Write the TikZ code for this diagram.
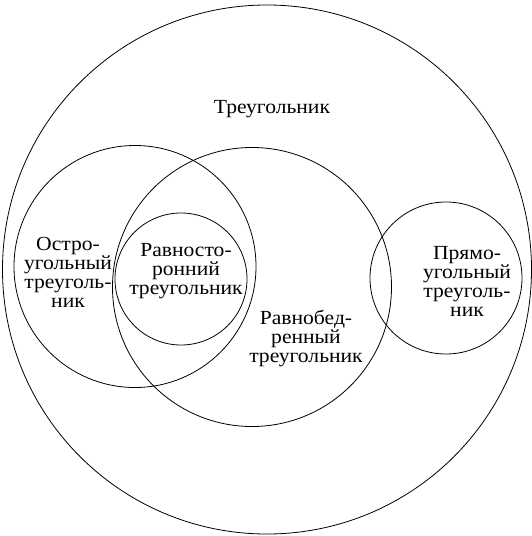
\documentclass[tikz,border=0pt]{standalone}
\usepackage{fontspec}
\setmainfont{Liberation Serif}[FakeStretch=1.08]
\begin{document}
\begin{tikzpicture}[x=1pt,y=-1pt,
  setring/.style={circle, draw, line width=0.8pt, inner sep=0pt},
  lbl/.style={align=center, inner sep=0pt, font=\fontsize{20}{19}\selectfont}]
\useasboundingbox (0,0) rectangle (531,536);
% set circles
\node[setring, minimum size=529pt] (tri) at (267,269.5) {};
\node[setring, minimum size=242pt] (acute) at (135,266.5) {};
\node[setring, minimum size=279pt] (isos) at (252,287) {};
\node[setring, minimum size=132pt] (equi) at (181,279) {};
\node[setring, minimum size=152pt] (right) at (446,278) {};
% labels
\node[lbl] (triL) at (272,109) {Треугольник};
\node[lbl] (acuteL) at (68,272) {Остро-\\угольный\\треуголь-\\ник};
\node[lbl] (equiL) at (186,271) {Равносто-\\ронний\\треугольник};
\node[lbl] (isosL) at (306,338) {Равнобед-\\ренный\\треугольник};
\node[lbl] (rightL) at (467,281) {Прямо-\\угольный\\треуголь-\\ник};
\end{tikzpicture}
\end{document}
